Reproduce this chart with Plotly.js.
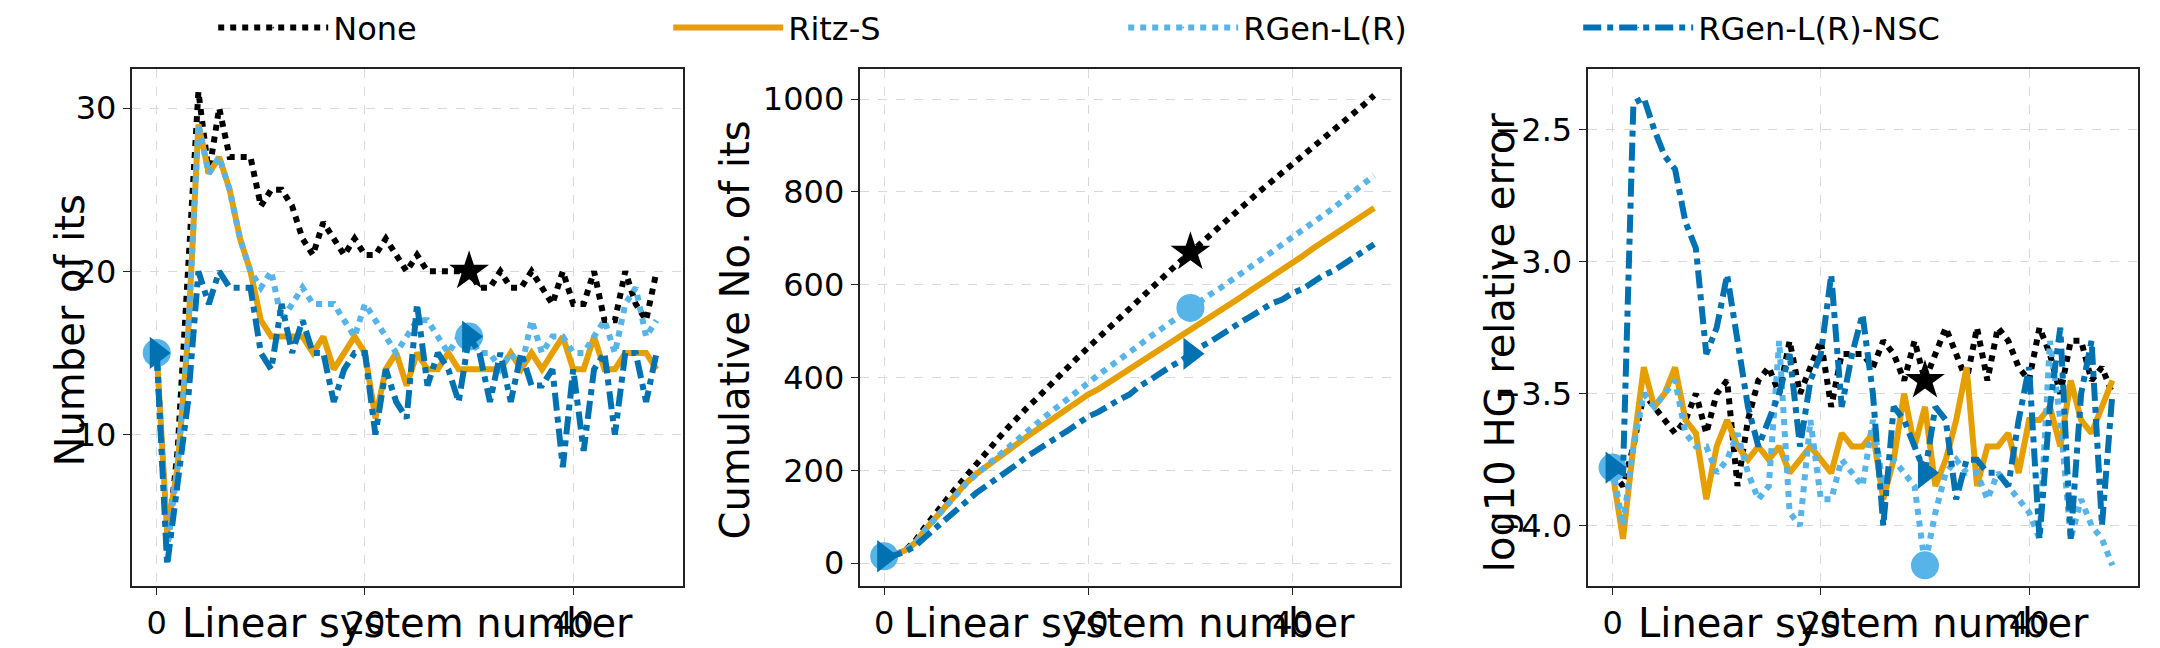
<!DOCTYPE html><html><head><script src="https://cdn.plot.ly/plotly-3.0.0.min.js"></script></head><body style="margin:0"><div id="g" style="width:2160px;height:648px"></div><script>
const names=["None","Ritz-S","RGen-L(R)","RGen-L(R)-NSC"];
const itsNone=[15,3,9,20,31,26,30,27,27,27,24,25,25,24,22,21,23,22,21,22,21,21,22,21,20,21,20,20,20,20,20,19,19,20,19,19,20,19,18,20,18,18,20,17,17,20,18,17,20];
const itsRitz=[15,4,8,16,29,26,27,25,22,20,17,16,16,16,16,15,16,14,15,16,15,11,14,15,13,15,14,14,15,14,14,14,14,14,15,14,15,14,15,16,14,14,16,14,14,15,15,15,14];
const itsRGen=[15,3,8,16,29,26,27,25,22,20,19,20,17,18,19,18,18,18,17,16,18,17,16,15,16,17,17,16,15,16,16,15,15,14,15,14,17,15,16,16,15,15,16,17,15,18,19,16,17];
const itsNSC=[15,2,7,12,20,18,20,19,19,19,15,14,18,15,17,15,15,12,14,15,15,10,14,12,11,18,13,15,14,12,16,15,12,15,12,15,13,13,14,8,14,9,14,15,10,15,15,12,15];
const errNone=[-3.8,-3.85,-3.7,-3.5,-3.55,-3.6,-3.65,-3.6,-3.5,-3.65,-3.5,-3.45,-3.85,-3.6,-3.45,-3.4,-3.5,-3.3,-3.5,-3.4,-3.3,-3.55,-3.35,-3.35,-3.35,-3.4,-3.3,-3.35,-3.45,-3.3,-3.45,-3.35,-3.25,-3.35,-3.45,-3.25,-3.45,-3.25,-3.3,-3.4,-3.45,-3.25,-3.35,-3.5,-3.3,-3.3,-3.45,-3.4,-3.5];
const errRitz=[-3.8,-4.05,-3.7,-3.4,-3.55,-3.5,-3.4,-3.6,-3.65,-3.9,-3.7,-3.6,-3.7,-3.75,-3.7,-3.75,-3.7,-3.8,-3.75,-3.7,-3.75,-3.8,-3.65,-3.7,-3.7,-3.65,-3.9,-3.75,-3.5,-3.7,-3.55,-3.85,-3.75,-3.6,-3.4,-3.85,-3.7,-3.7,-3.65,-3.8,-3.6,-3.6,-3.55,-3.7,-3.45,-3.6,-3.65,-3.55,-3.45];
const errRGen=[-3.78,-4.0,-3.7,-3.5,-3.55,-3.5,-3.45,-3.65,-3.7,-3.7,-3.8,-3.75,-3.65,-3.8,-3.9,-3.85,-3.3,-3.95,-4.0,-3.6,-3.9,-3.9,-3.75,-3.8,-3.85,-3.6,-3.85,-3.75,-3.8,-3.85,-4.15,-3.95,-3.8,-3.75,-3.8,-3.8,-3.9,-3.8,-3.85,-3.9,-3.95,-4.05,-3.3,-3.6,-4.05,-3.9,-4.0,-4.05,-4.15];
const errNSC=[-3.78,-3.8,-2.4,-2.38,-2.5,-2.6,-2.65,-2.85,-2.95,-3.35,-3.25,-3.05,-3.3,-3.55,-3.7,-3.6,-3.5,-3.35,-3.7,-3.45,-3.35,-3.05,-3.55,-3.35,-3.2,-3.5,-4.0,-3.55,-3.6,-3.7,-3.8,-3.55,-3.6,-3.9,-3.75,-3.75,-3.8,-3.8,-3.85,-3.6,-3.4,-4.05,-3.55,-3.25,-4.05,-3.5,-3.3,-4.0,-3.5];
const xTitle="Linear system number";
const yTitles=["Number of its","Cumulative No. of its","log10 HG relative error"];
const x=itsNone.map((_,i)=>i);
const cum=a=>{let s=0;return a.map(v=>s+=v);};
const its=[itsNone,itsRitz,itsRGen,itsNSC], errs=[errNone,errRitz,errRGen,errNSC];
const colors=["#000000","#E69F00","#56B4E9","#0072B2"];
const dashes=["dot","solid","dot","dashdot"];
const syms=["star","circle","circle","triangle-right"];
const traces=[];
[its,its.map(cum),errs].forEach((set,p)=>{
  set.forEach((y,i)=>{
    const ax=p===0?"":(p+1);
    const sz=x.map(k=>(i===1)?0:((k%30===0)?((i===0&&k===0)?0:(i===0?30:28)):0));
    traces.push({x:x,y:y,xaxis:"x"+ax,yaxis:"y"+ax,name:names[i],showlegend:p===0,
      mode:i===1?"lines":"lines+markers",
      line:{color:colors[i],width:6,dash:dashes[i]},
      marker:{symbol:syms[i],size:sz,color:colors[i],opacity:1,line:{width:0}}});
  });
});
const tf={size:32,color:"#000",family:"DejaVu Sans"};
const grid={showgrid:true,gridcolor:"#d9d9d9",griddash:"dash",gridwidth:1,zeroline:false,showline:true,mirror:true,linecolor:"#222",linewidth:2,ticks:"outside",ticklen:7,tickcolor:"#222",tickfont:tf};
const xa=(d)=>Object.assign({},grid,{domain:d,range:[-2.4,50.5],tickvals:[0,20,40]});
const ya=(r,tv,ttx)=>Object.assign({},grid,{range:r,tickvals:tv,ticktext:ttx,domain:[0.097,0.912]});
const tfont={size:40,color:"#000",family:"DejaVu Sans"};
const xd=[[0.061,0.316],[0.398,0.648],[0.735,0.99]];
const ann=[];
xd.forEach(d=>ann.push({xref:"paper",yref:"paper",x:(d[0]+d[1])/2,y:0.0,yanchor:"bottom",xanchor:"center",text:xTitle,showarrow:false,font:tfont}));
[69,734,1500].forEach((px,i)=>ann.push({xref:"paper",yref:"paper",x:px/2160,y:(i===2?0.48:0.5),xanchor:"center",yanchor:"middle",textangle:-90,text:yTitles[i],showarrow:false,font:tfont}));
const layout={width:2160,height:648,margin:{l:0,r:0,t:0,b:0},paper_bgcolor:"#fff",plot_bgcolor:"#fff",font:{family:"DejaVu Sans",color:"#000"},
 showlegend:true,legend:{orientation:"h",x:0.52,xanchor:"center",y:1.02,yanchor:"top",font:{size:32},itemwidth:110,entrywidth:330,entrywidthmode:"pixels"},
 annotations:ann,
 xaxis:xa(xd[0]),yaxis:ya([0.7,32.4],[10,20,30]),
 xaxis2:Object.assign(xa(xd[1]),{anchor:"y2"}),yaxis2:Object.assign(ya([-50,1065],[0,200,400,600,800,1000]),{anchor:"x2"}),
 xaxis3:Object.assign(xa(xd[2]),{anchor:"y3"}),yaxis3:Object.assign(ya([-4.23,-2.27],[-4,-3.5,-3,-2.5],["−4.0","−3.5","−3.0","−2.5"]),{anchor:"x3"})};
Plotly.newPlot("g",traces,layout,{staticPlot:true});
</script></body></html>
